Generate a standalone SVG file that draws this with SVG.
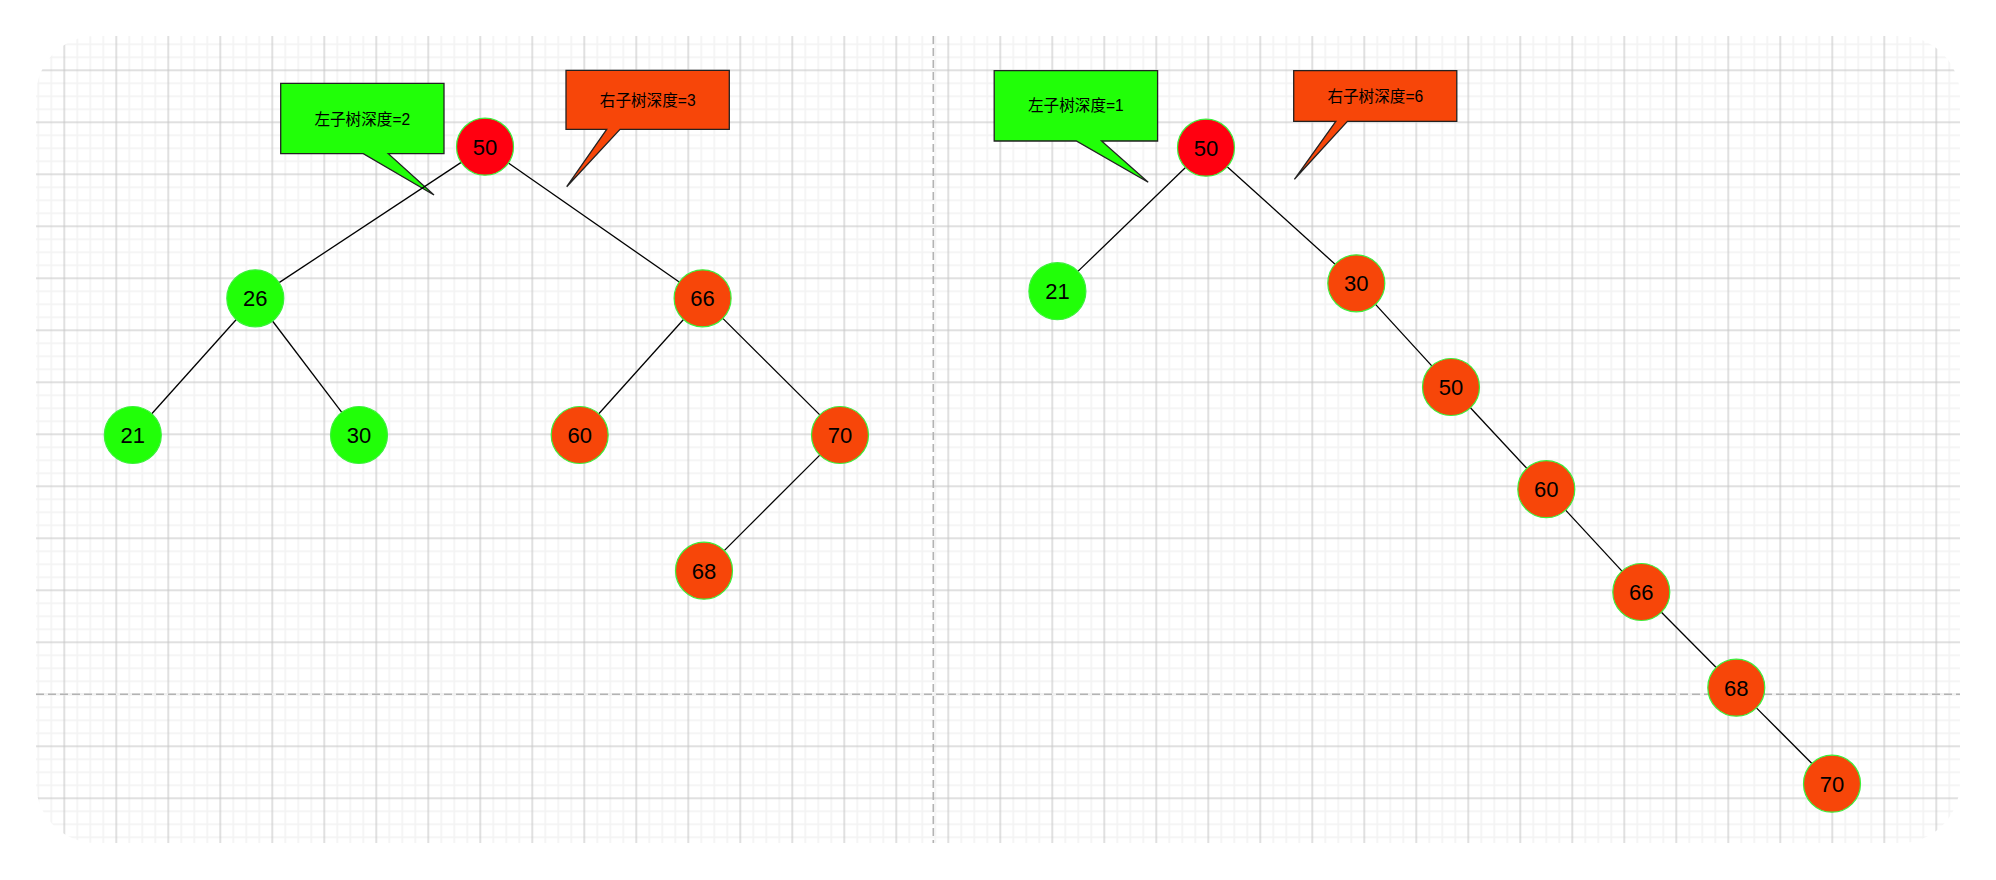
<svg xmlns="http://www.w3.org/2000/svg" width="1996" height="880" viewBox="0 0 1996 880">
<defs>
<style>
.edge{stroke:#000;stroke-width:1.3;fill:none}
.node{stroke:#3cf03c;stroke-width:1.2}
.g{fill:#21ff08}
.o{fill:#f74609}
.r{fill:#ff0010}
.lbl{font-family:"Liberation Sans",Arial,sans-serif;font-size:22px;fill:#000;text-anchor:middle}
.call{stroke:#222;stroke-width:1.3}
.ctext{font-family:"Liberation Sans","Noto Sans CJK SC",sans-serif;font-size:15.6px;fill:#000;text-anchor:middle}
.pb{stroke:#b3b3b3;stroke-width:1.6;stroke-dasharray:8 4;fill:none}
</style>
<pattern id="grid" patternUnits="userSpaceOnUse" x="6.3" y="12.3" width="52" height="52">
<rect x="18.25" y="0" width="1.5" height="52" fill="#f2f2f2"/>
<rect x="31.25" y="0" width="1.5" height="52" fill="#f2f2f2"/>
<rect x="44.25" y="0" width="1.5" height="52" fill="#f2f2f2"/>
<rect x="0" y="18.25" width="52" height="1.5" fill="#f2f2f2"/>
<rect x="0" y="31.25" width="52" height="1.5" fill="#f2f2f2"/>
<rect x="0" y="44.25" width="52" height="1.5" fill="#f2f2f2"/>
<rect x="5.5" y="0" width="1" height="52" fill="#c2c2c2"/>
<rect x="0" y="5.5" width="52" height="1" fill="#c2c2c2"/>
</pattern>
<clipPath id="page"><rect x="36" y="36" width="1924" height="807" rx="60" ry="60"/></clipPath>
</defs>
<rect x="0" y="0" width="1996" height="880" fill="#fff"/>
<g id="background" clip-path="url(#page)">
<rect x="36" y="36" width="1924" height="807" fill="url(#grid)"/>
<line x1="36" y1="694.3" x2="1960" y2="694.3" stroke="#f2f2f2" stroke-width="2"/>
<line class="pb" x1="36" y1="694.3" x2="1960" y2="694.3"/>
<line class="pb" x1="933.3" y1="36" x2="933.3" y2="843"/>
</g>
<g id="callout-left-l">
<path class="call g" d="M280.7,83.3 H444 V153.7 H388.3 L434,195 L363.3,153.7 H280.7 Z"/>
<text class="ctext" x="362.3" y="124.5">左子树深度=2</text>
</g>
<g id="callout-left-r">
<path class="call o" d="M566,70.3 H729.3 V129.3 H620 L566.7,186.7 L606.7,129.3 H566 Z"/>
<text class="ctext" x="647.7" y="105.5">右子树深度=3</text>
</g>
<g id="callout-right-l">
<path class="call g" d="M994.2,70.7 H1157.6 V141 H1101.5 L1148.2,182.3 L1076.3,141 H994.2 Z"/>
<text class="ctext" x="1075.9" y="111">左子树深度=1</text>
</g>
<g id="callout-right-r">
<path class="call o" d="M1293.7,70.7 H1456.8 V121.3 H1347.4 L1294.4,179.3 L1335.8,121.3 H1293.7 Z"/>
<text class="ctext" x="1375.3" y="102">右子树深度=6</text>
</g>
<g id="connectors">
<line class="edge" x1="461.2" y1="162.4" x2="279.1" y2="282.6"/>
<line class="edge" x1="508.4" y1="163" x2="679.2" y2="282"/>
<line class="edge" x1="236.3" y1="319.5" x2="151.8" y2="413.8"/>
<line class="edge" x1="272.5" y1="321" x2="341.8" y2="412.3"/>
<line class="edge" x1="683.5" y1="319.5" x2="598.8" y2="413.8"/>
<line class="edge" x1="722.8" y1="318.4" x2="819.8" y2="414.9"/>
<line class="edge" x1="819.8" y1="455.1" x2="724.2" y2="550.6"/>
<line class="edge" x1="1185.5" y1="167.5" x2="1077.9" y2="271.4"/>
<line class="edge" x1="1227.2" y1="166.8" x2="1335.1" y2="264.2"/>
<line class="edge" x1="1375.5" y1="304.4" x2="1431.8" y2="365.9"/>
<line class="edge" x1="1470.4" y1="407.8" x2="1526.9" y2="468.4"/>
<line class="edge" x1="1565.6" y1="510.1" x2="1622" y2="571.1"/>
<line class="edge" x1="1661.4" y1="612.2" x2="1716.2" y2="667.5"/>
<line class="edge" x1="1756.4" y1="707.9" x2="1811.9" y2="763.5"/>
</g>
<g id="L50"><circle class="node r" cx="485" cy="146.7" r="28.5"/><text class="lbl" x="485" y="154.7">50</text></g>
<g id="L26"><circle class="node g" cx="255.3" cy="298.3" r="28.5"/><text class="lbl" x="255.3" y="306.3">26</text></g>
<g id="L66"><circle class="node o" cx="702.6" cy="298.3" r="28.5"/><text class="lbl" x="702.6" y="306.3">66</text></g>
<g id="L21"><circle class="node g" cx="132.8" cy="435" r="28.5"/><text class="lbl" x="132.8" y="443">21</text></g>
<g id="L30"><circle class="node g" cx="359" cy="435" r="28.5"/><text class="lbl" x="359" y="443">30</text></g>
<g id="L60"><circle class="node o" cx="579.7" cy="435" r="28.5"/><text class="lbl" x="579.7" y="443">60</text></g>
<g id="L70"><circle class="node o" cx="840" cy="435" r="28.5"/><text class="lbl" x="840" y="443">70</text></g>
<g id="L68"><circle class="node o" cx="704" cy="570.7" r="28.5"/><text class="lbl" x="704" y="578.7">68</text></g>
<g id="R50"><circle class="node r" cx="1206" cy="147.7" r="28.5"/><text class="lbl" x="1206" y="155.7">50</text></g>
<g id="R21"><circle class="node g" cx="1057.4" cy="291.2" r="28.5"/><text class="lbl" x="1057.4" y="299.2">21</text></g>
<g id="R30"><circle class="node o" cx="1356.3" cy="283.3" r="28.5"/><text class="lbl" x="1356.3" y="291.3">30</text></g>
<g id="R50b"><circle class="node o" cx="1451" cy="387" r="28.5"/><text class="lbl" x="1451" y="395">50</text></g>
<g id="R60"><circle class="node o" cx="1546.3" cy="489.2" r="28.5"/><text class="lbl" x="1546.3" y="497.2">60</text></g>
<g id="R66"><circle class="node o" cx="1641.3" cy="592" r="28.5"/><text class="lbl" x="1641.3" y="600">66</text></g>
<g id="R68"><circle class="node o" cx="1736.3" cy="687.7" r="28.5"/><text class="lbl" x="1736.3" y="695.7">68</text></g>
<g id="R70"><circle class="node o" cx="1832" cy="783.7" r="28.5"/><text class="lbl" x="1832" y="791.7">70</text></g>
</svg>
